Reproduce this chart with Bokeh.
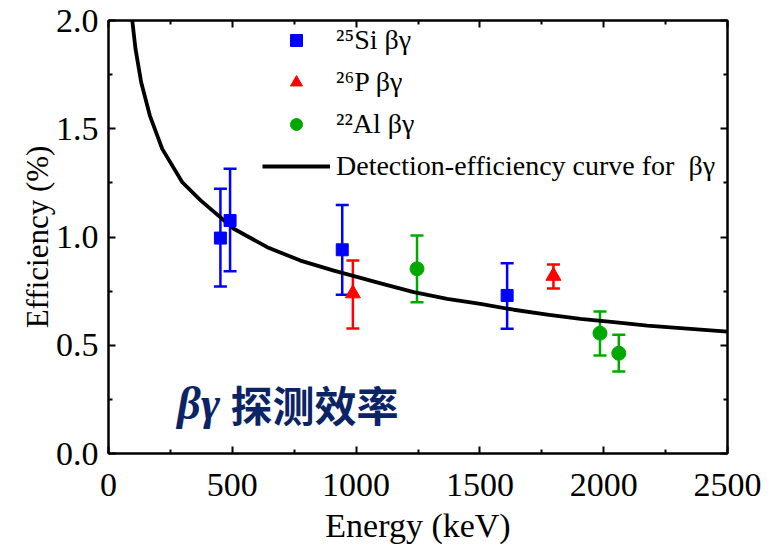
from bokeh.plotting import figure
from bokeh.models import (ColumnDataSource, Whisker, TeeHead, Legend, LegendItem,
                          FixedTicker, LinearAxis, Label, CustomJSTickFormatter, Range1d)
from bokeh.embed import file_html
from bokeh.resources import INLINE

# ---- data ----
si_energy = [452, 491, 944, 1610]
si_eff = [0.995, 1.076, 0.941, 0.730]
si_low = [0.771, 0.842, 0.733, 0.576]
si_high = [1.223, 1.315, 1.148, 0.879]

p_energy = [987, 1797]
p_eff = [0.739, 0.820]
p_low = [0.577, 0.762]
p_high = [0.891, 0.873]

al_energy = [1246, 1985, 2061]
al_eff = [0.853, 0.556, 0.463]
al_low = [0.699, 0.453, 0.379]
al_high = [1.007, 0.656, 0.548]

curve_energy = [96, 109, 132, 167, 217, 298, 372, 412, 506, 641, 775, 910, 1018,
                1099, 1233, 1368, 1502, 1637, 1772, 1906, 2041, 2176, 2310, 2500]
curve_eff = [2.0, 1.869, 1.715, 1.561, 1.407, 1.253, 1.169, 1.130, 1.038, 0.953,
             0.891, 0.845, 0.811, 0.786, 0.745, 0.714, 0.691, 0.664, 0.642, 0.622,
             0.607, 0.591, 0.579, 0.563]

x_ticks = [0, 500, 1000, 1500, 2000, 2500]
x_minor = [250, 750, 1250, 1750, 2250]
y_ticks = [0.0, 0.5, 1.0, 1.5, 2.0]
y_minor = [0.25, 0.75, 1.25, 1.75]

SERIF = "Liberation Serif"
BLUE, RED, GREEN = "#0000FF", "#FF0000", "#00A800"
NAVY = "#0B2466"

p = figure(width=773, height=552, output_backend="svg", toolbar_location=None,
           x_range=Range1d(0, 2500), y_range=Range1d(0, 2.0),
           min_border_left=108, min_border_right=46, min_border_top=20,
           min_border_bottom=99)
p.grid.visible = False
p.outline_line_color = "black"
p.outline_line_width = 2
p.background_fill_color = "white"
p.border_fill_color = "white"

def style_axis(ax, ticks, minor, labels=True):
    ax.ticker = FixedTicker(ticks=ticks, minor_ticks=minor)
    ax.axis_line_width = 2
    ax.axis_line_color = "black"
    ax.major_tick_in = 7
    ax.major_tick_out = 0
    ax.minor_tick_in = 4
    ax.minor_tick_out = 0
    ax.major_tick_line_width = 2
    ax.minor_tick_line_width = 2
    ax.major_label_text_font = SERIF
    ax.major_label_text_font_size = "34px"
    ax.major_label_text_color = "black"
    ax.axis_label_text_font = SERIF
    ax.axis_label_text_font_size = "34px"
    ax.axis_label_text_font_style = "normal"
    ax.axis_label_text_color = "black"
    if not labels:
        ax.formatter = CustomJSTickFormatter(code="return ''")

xa = p.xaxis[0]
ya = p.yaxis[0]
style_axis(xa, x_ticks, x_minor)
style_axis(ya, y_ticks, y_minor)
xa.axis_label = "Energy (keV)"
ya.axis_label = "Efficiency (%)"
ya.axis_label_text_font_size = "31px"
xa.major_label_standoff = 20
ya.major_label_standoff = 10
xa.axis_label_standoff = 8
ya.axis_label_standoff = -2
ya.major_label_overrides = {0: "0.0", 0.5: "0.5", 1: "1.0", 1.5: "1.5", 2: "2.0"}

top = LinearAxis()
right = LinearAxis()
style_axis(top, x_ticks, x_minor, labels=False)
style_axis(right, y_ticks, y_minor, labels=False)
p.add_layout(top, "above")
p.add_layout(right, "right")

# curve
r_curve = p.line(curve_energy, curve_eff, line_color="black", line_width=3.8,
                 line_join="round")

def series(xs, ys, lo, hi, color, marker, size):
    src = ColumnDataSource(dict(x=xs, y=ys, lo=lo, hi=hi))
    w = Whisker(base="x", lower="lo", upper="hi", source=src,
                line_color=color, line_width=2.5,
                upper_head=TeeHead(size=13, line_color=color, line_width=2.5),
                lower_head=TeeHead(size=13, line_color=color, line_width=2.5))
    p.add_layout(w)
    return p.scatter("x", "y", source=src, marker=marker, size=size,
                     fill_color=color, line_color=color)

r_si = series(si_energy, si_eff, si_low, si_high, BLUE, "square", 12)
r_p = series(p_energy, p_eff, p_low, p_high, RED, "triangle", 15)
r_al = series(al_energy, al_eff, al_low, al_high, GREEN, "circle", 14)

legend = Legend(items=[
    LegendItem(label="\u00b2\u2075Si \u03b2\u03b3", renderers=[r_si]),
    LegendItem(label="\u00b2\u2076P \u03b2\u03b3", renderers=[r_p]),
    LegendItem(label="\u00b2\u00b2Al \u03b2\u03b3", renderers=[r_al]),
    LegendItem(label="Detection-efficiency curve for  \u03b2\u03b3", renderers=[r_curve]),
], location=(154, 271), glyph_width=68, glyph_height=30, label_height=30,
   spacing=10, padding=0, margin=0, border_line_color=None,
   background_fill_alpha=0, label_text_font=SERIF, label_text_font_size="28px",
   label_standoff=6, label_text_color="black")
p.add_layout(legend)

p.add_layout(Label(x=278, y=0.232, text="\u03b2\u03b3", text_font=SERIF,
                   text_font_style="bold italic", text_font_size="46px",
                   text_color=NAVY, text_baseline="middle"))
p.add_layout(Label(x=493, y=0.232, text="探测效率", text_font="Noto Sans CJK SC",
                   text_font_style="bold", text_font_size="42px",
                   text_color=NAVY, text_baseline="middle"))

open("out.html", "w").write(file_html(p, INLINE))
